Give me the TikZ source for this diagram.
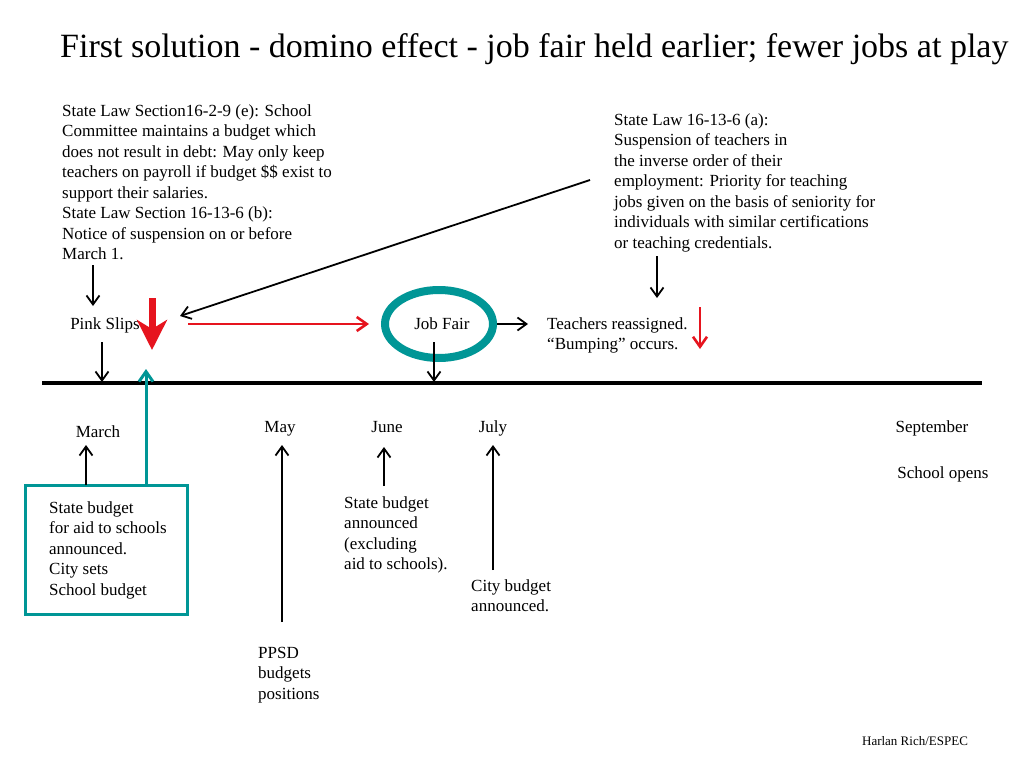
\documentclass[tikz,border=0pt]{standalone}
\usepackage{fontspec}
\setmainfont{Liberation Serif}
\usetikzlibrary{arrows.meta,shapes.geometric}
\definecolor{teal1}{RGB}{0,150,150}
\definecolor{red1}{RGB}{230,20,30}
\tikzset{
  txt/.style={anchor=base west,inner sep=0pt,align=left,font=\fontsize{17}{20.5}\selectfont},
  ctxt/.style={anchor=base,inner sep=0pt,align=center,font=\fontsize{17}{20.5}\selectfont},
  blk/.style={draw=black,line width=1.8pt,-{Straight Barb[length=9pt,width=13pt,line width=1.8pt]}},
  redbig/.style={draw=red1,line width=7pt,-{Stealth[length=30pt,width=30pt,inset=9pt]}},
  redthin/.style={draw=red1,line width=2.6pt,-{Straight Barb[length=10pt,width=14pt,line width=2.6pt]}},
  tealarr/.style={draw=teal1,line width=3pt,-{Straight Barb[length=10pt,width=14pt,line width=3pt]}},
}
\begin{document}
\begin{tikzpicture}[x=1pt,y=-1pt]
\useasboundingbox[fill=white] (0,0) rectangle (1024,768);
% title
\node[anchor=base west,inner sep=0pt,font=\fontsize{34}{38}\selectfont] (title) at (60,57) {First solution - domino effect - job fair held earlier; fewer jobs at play};
% left law text (anchor at baseline of last line)
\node[txt] (lawL) at (62,259.5) {State Law Section16-2-9 (e): School\\Committee maintains a budget which\\does not result in debt: May only keep\\teachers on payroll if budget \$\$ exist to\\support their salaries.\\State Law Section 16-13-6 (b):\\Notice of suspension on or before\\March 1.};
% right law text
\node[txt] (lawR) at (614,248) {State Law 16-13-6 (a):\\Suspension of teachers in\\the inverse order of their\\employment: Priority for teaching\\jobs given on the basis of seniority for\\individuals with similar certifications\\or teaching credentials.};
% middle row
\node[ctxt] (pink) at (105,329) {Pink Slips};
\node[draw=teal1,line width=8pt,ellipse,minimum width=108pt,minimum height=68pt,inner sep=0pt] (fair) at (439,324) {};
\node[ctxt] (fairlbl) at (442,329) {Job Fair};
\node[txt] (teach) at (547,349.5) {Teachers reassigned.\\“Bumping” occurs.};
% timeline
\coordinate (tl0) at (42,383);
\coordinate (tl1) at (982,383);
\draw[line width=4pt] (tl0) -- (tl1);
% months
\node[ctxt] (march) at (98,437) {March};
\node[ctxt] (may) at (280,432) {May};
\node[ctxt] (june) at (387,432) {June};
\node[ctxt] (july) at (493,432) {July};
\node[ctxt] (sept) at (932,432) {September};
\node[ctxt] (opens) at (943,478) {School opens};
% lower items
\node[draw=teal1,line width=3.5pt,minimum width=162pt,minimum height=129pt,inner sep=0pt] (box) at (106.5,550) {};
\node[txt] (boxtxt) at (49,595) {State budget\\for aid to schools\\announced.\\City sets\\School budget};
\node[txt] (statebud) at (344,569.5) {State budget\\announced\\(excluding\\aid to schools).};
\node[txt] (citybud) at (471,611.5) {City budget\\announced.};
\node[txt] (ppsd) at (258,699) {PPSD\\budgets\\positions};
\node[anchor=base,inner sep=0pt,font=\fontsize{13}{15}\selectfont] (credit) at (915,745) {Harlan Rich/ESPEC};
% connector coordinates
\coordinate (a1s) at (93,265); \coordinate (a1e) at (93,306);
\coordinate (rbs) at (152,298); \coordinate (rbe) at (152,350);
\coordinate (ls) at (590,180); \coordinate (le) at (180,316);
\coordinate (rhs) at (188,324); \coordinate (rhe) at (369,324);
\coordinate (jfe) at (528,324);
\coordinate (rss) at (700,307); \coordinate (rse) at (700,349);
\coordinate (lrs) at (657,256); \coordinate (lre) at (657,298);
\coordinate (pss) at (102,342); \coordinate (pse) at (102,382);
\coordinate (fss) at (434,342); \coordinate (fse) at (434,382);
\coordinate (tus) at (146,485); \coordinate (tue) at (146,369);
\coordinate (mas) at (86,485); \coordinate (mae) at (86,445);
\coordinate (mys) at (282,622); \coordinate (mye) at (282,445);
\coordinate (jns) at (384,486); \coordinate (jne) at (384,447);
\coordinate (jls) at (493,570); \coordinate (jle) at (493,445);
% arrows
\draw[blk] (a1s) -- (a1e);
\draw[redbig] (rbs) -- (rbe);
\draw[blk] (ls) -- (le);
\draw[redthin] (rhs) -- (rhe);
\draw[blk] (fair.east) -- (jfe);
\draw[redthin] (rss) -- (rse);
\draw[blk] (lrs) -- (lre);
\draw[blk] (pss) -- (pse);
\draw[blk] (fss) -- (fse);
\draw[tealarr] (tus) -- (tue);
\draw[blk] (mas) -- (mae);
\draw[blk] (mys) -- (mye);
\draw[blk] (jns) -- (jne);
\draw[blk] (jls) -- (jle);
\end{tikzpicture}
\end{document}
